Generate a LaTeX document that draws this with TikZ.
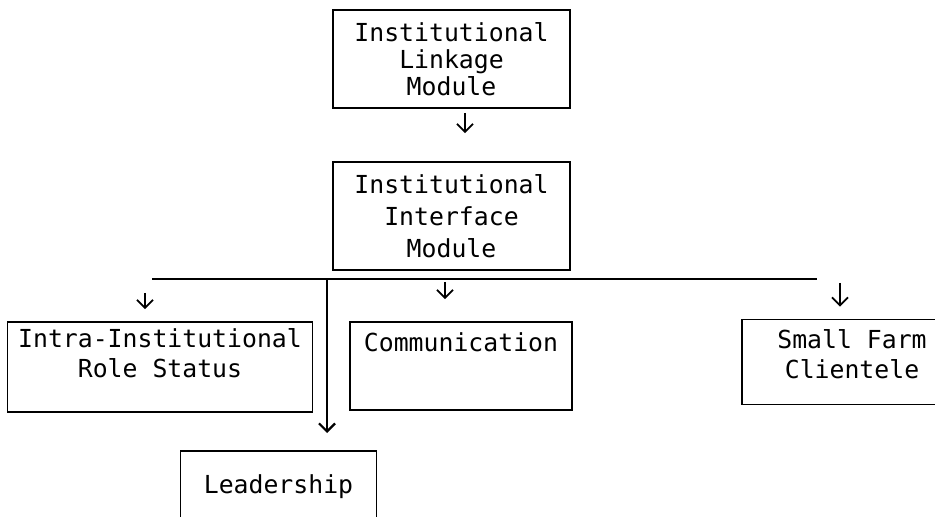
\documentclass[tikz,border=0pt]{standalone}
\usepackage{fontspec}
\setmonofont{DejaVu Sans Mono}
\usepackage{tikz}
\usetikzlibrary{arrows.meta}

\begin{document}
\begin{tikzpicture}[x=0.5pt,y=-0.5pt, line width=0.9pt,
        modbox/.style={draw, inner sep=0pt, align=center, font=\ttfamily\fontsize{12.4}{15}\selectfont},
        link/.style={-{Straight Barb[length=4pt,width=8pt]}}]
        \useasboundingbox (0,0) rectangle (935,517);
        \begin{scope}
        \clip (0,0) rectangle (935,517);
        \node[modbox, minimum width=118.5pt, minimum height=49pt, font=\ttfamily\fontsize{12.4}{13.5}\selectfont] (linkage) at (451.5, 59) {Institutional\\Linkage\\Module};
        \node[modbox, minimum width=118.5pt, minimum height=54pt, font=\ttfamily\fontsize{12.4}{16}\selectfont] (interface) at (451.5, 216) {Institutional\\Interface\\Module};
        \node[modbox, minimum width=152.5pt, minimum height=45pt, text depth=14pt] (intra) at (160, 367) {Intra-Institutional\\Role Status};
        \node[modbox, minimum width=111pt, minimum height=44pt, text depth=24pt] (comm) at (461, 366) {Communication};
        \node[modbox, minimum width=110pt, minimum height=42.5pt, text depth=8pt] (farm) at (852, 362) {Small Farm\\Clientele};
        \node[modbox, anchor=north, minimum width=98pt, minimum height=36pt] (leader) at (278.5, 450) {Leadership};
        \coordinate (bus l) at (152, 279);
        \coordinate (bus r) at (817, 279);
        \coordinate (a1) at (145, 279);
        \coordinate (a2) at (445, 279);
        \coordinate (a3) at (840, 279);
        \coordinate (a4) at (327, 279);
        \draw[link, shorten <=2pt, shorten >=14pt] ([xshift=6.75pt]linkage.south) -- ([xshift=6.75pt]interface.north);
        \draw (bus l) -- (bus r);
        \draw[link, shorten <=7pt, shorten >=6pt] (a1) -- (a1 |- intra.north);
        \draw[link, shorten <=1.5pt, shorten >=11pt] (a2) -- (a2 |- comm.north);
        \draw[link, shorten <=2pt, shorten >=6pt] (a3) -- (a3 |- farm.north);
        \draw[link, line width=1.1pt, shorten >=8.5pt] (a4) -- (a4 |- leader.north);
        \end{scope}
    \end{tikzpicture}
\end{document}
